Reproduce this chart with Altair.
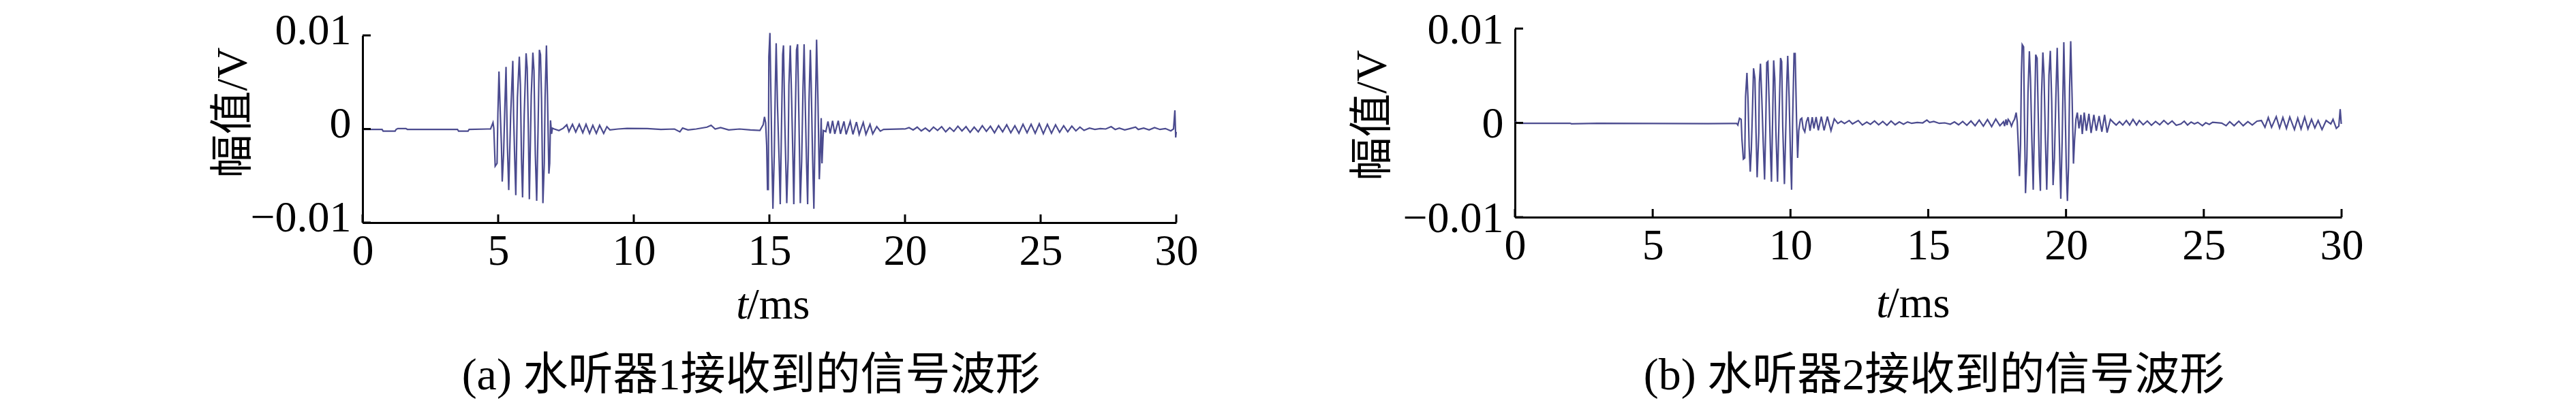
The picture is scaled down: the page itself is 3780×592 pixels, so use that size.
import altair as alt
import pandas as pd

# ---------------- data ----------------
# panel (a): hydrophone 1, time in ms, amplitude in mV
t_a = [0.00, 0.72, 0.76, 1.20, 1.24, 1.30, 1.60, 1.65, 3.50, 3.54, 3.89, 3.93, 4.60,
       4.72, 4.81, 4.84, 4.89, 4.96, 4.99, 5.03, 5.08, 5.12, 5.15, 5.20, 5.25, 5.29, 5.34,
       5.39, 5.46, 5.54, 5.57, 5.61, 5.65, 5.71, 5.78, 5.82, 5.86, 5.90, 5.96, 6.03, 6.07,
       6.11, 6.15, 6.22, 6.28, 6.32, 6.37, 6.42, 6.47, 6.52, 6.56, 6.60, 6.65, 6.70, 6.73,
       6.78, 6.82, 6.87, 6.90, 6.93, 6.97, 7.00, 7.07, 7.24, 7.40, 7.53, 7.61, 7.74, 7.86,
       7.99, 8.12, 8.24, 8.37, 8.49, 8.62, 8.74, 8.89, 9.01, 9.12, 9.42, 9.75,
       10.50, 11.00, 11.50, 11.70, 11.80, 12.00, 12.30, 12.70, 12.85, 13.00, 13.20, 13.50,
       13.90, 14.30,
       14.65, 14.72, 14.77, 14.82, 14.86, 14.90, 14.93, 14.96, 14.98, 15.02, 15.07, 15.09,
       15.13, 15.18, 15.22, 15.25, 15.30, 15.36, 15.40, 15.45, 15.49, 15.52, 15.57, 15.64,
       15.69, 15.72, 15.77, 15.82, 15.87, 15.90, 15.95, 16.00, 16.04, 16.09, 16.14, 16.19,
       16.24, 16.28, 16.32, 16.37, 16.41, 16.46, 16.51, 16.54, 16.59, 16.64, 16.69, 16.74,
       16.79, 16.84, 16.87, 16.91, 16.94, 16.99, 17.08, 17.16, 17.24, 17.33, 17.41, 17.54,
       17.62, 17.75, 17.83, 17.98, 18.08, 18.21, 18.31, 18.46, 18.56, 18.71, 18.81, 18.96,
       19.09, 19.21, 19.92,
       20.00, 20.15, 20.30, 20.45, 20.60, 20.75, 20.90, 21.05, 21.20, 21.35, 21.50, 21.65,
       21.80, 21.95, 22.10, 22.25, 22.40, 22.55, 22.70, 22.85, 23.00, 23.15, 23.30, 23.45,
       23.60, 23.75, 23.90, 24.05, 24.20, 24.35, 24.50, 24.65, 24.80, 24.95, 25.10, 25.25,
       25.40, 25.55, 25.70, 25.85, 26.00, 26.15, 26.30, 26.45, 26.60, 26.80, 27.00, 27.20,
       27.40, 27.60, 27.75, 27.90, 28.10, 28.30, 28.50, 28.60, 28.80, 29.00, 29.20, 29.40,
       29.60, 29.80, 29.90, 29.95, 29.98, 30.00]
mv_a = [-0.05, -0.05, -0.23, -0.23, -0.04, 0.05, 0.05, -0.04, -0.04, -0.23, -0.23, -0.04, 0.00,
        0.01, 0.69, 0.08, -3.97, -3.67, 1.66, 6.14, 1.54, -1.73, -5.61, -2.70, 2.75, 6.63, -1.73,
        -6.53, 1.42, 7.28, 1.42, -3.19, -7.07, 3.36, 7.72, 4.69, -3.19, -7.31, 1.42, 8.08, 6.51,
        0.45, -7.50, 3.60, 8.16, 6.26, -2.70, -7.67, -0.16, 8.45, 7.96, 3.11, -7.92, -3.67, 3.36,
        8.93, 3.23, -4.77, -3.67, 0.93, -0.52, 0.08, 0.00, -0.16, 0.08, 0.45, -0.28, 0.50, -0.33,
        0.50, -0.40, 0.50, -0.47, 0.40, -0.47, 0.40, -0.47, 0.25, -0.09, 0.00, 0.06,
        0.05, -0.05, 0.00, -0.30, 0.10, -0.10, 0.00, 0.20, 0.40, 0.00, 0.15, -0.10,
        0.00, -0.10,
        -0.16, 0.20, 0.45, 1.30, 0.69, -1.73, -6.46, -6.46, 7.72, 10.26, 1.17, -2.70,
        -8.52, -2.70, 4.81, 9.17, 2.39, -3.43, -8.04, 0.93, 7.96, 8.93, 0.45, -7.92,
        -3.19, 4.69, 8.93, 3.11, -3.43, -8.04, 0.69, 8.45, 9.05, 0.93, -7.92, -3.43,
        4.45, 9.05, 2.87, -3.67, -8.04, 2.87, 8.45, 5.05, -2.70, -8.52, 0.93, 9.54,
        3.11, -5.37, -3.19, 1.17, -3.67, -0.16, -0.28, 0.81, -0.47, 0.88, -0.52, 0.88,
        -0.52, 0.81, -0.57, 0.81, -0.57, 0.74, -0.57, 0.69, -0.57, 0.50, -0.52, 0.25,
        -0.23, -0.04, 0.01,
        0.00, 0.15, -0.10, 0.20, -0.20, 0.10, -0.25, 0.20, -0.15, 0.25, -0.30, 0.15,
        -0.25, 0.30, -0.20, 0.25, -0.35, 0.20, -0.30, 0.35, -0.25, 0.30, -0.40, 0.35,
        -0.30, 0.45, -0.40, 0.35, -0.45, 0.50, -0.40, 0.50, -0.45, 0.55, -0.50, 0.50,
        -0.45, 0.45, -0.35, 0.35, -0.30, 0.30, -0.20, 0.20, -0.15, 0.10, -0.05, 0.05,
        0.00, 0.25, -0.05, 0.10, -0.10, 0.05, 0.20, -0.05, 0.10, -0.10, 0.15, -0.05,
        0.05, -0.20, 0.00, 2.00, -0.90, -0.30]

# panel (b): hydrophone 2, time in ms, amplitude in mV
t_b = [0.00, 0.15, 2.00, 2.05, 3.00, 5.00, 7.00, 7.84, 8.05, 8.09, 8.15, 8.21, 8.24, 8.29,
       8.34, 8.37, 8.42, 8.46, 8.50, 8.54, 8.58, 8.62, 8.66, 8.71, 8.75, 8.79, 8.85, 8.87,
       8.91, 8.96, 9.01, 9.06, 9.10, 9.14, 9.18, 9.23, 9.28, 9.31, 9.35, 9.39, 9.43, 9.47,
       9.53, 9.59, 9.64, 9.68, 9.72, 9.78, 9.82, 9.87, 9.90, 9.95, 10.00, 10.04, 10.08,
       10.13, 10.17, 10.22, 10.26, 10.30, 10.36, 10.41, 10.46, 10.52, 10.58, 10.64, 10.71,
       10.79, 10.85, 10.93, 11.01, 11.12, 11.22, 11.34, 11.47, 11.59, 11.72, 11.84, 11.96,
       12.13, 12.25, 12.46, 12.61, 12.77, 12.90, 13.05, 13.20, 13.35, 13.50, 13.65, 13.80,
       13.95, 14.10, 14.25, 14.40, 14.60, 14.80, 14.95, 15.05, 15.20, 15.40, 15.60, 15.80,
       15.95, 16.10, 16.25, 16.40, 16.55, 16.70, 16.85, 17.00, 17.15, 17.30, 17.45, 17.60,
       17.73, 17.77, 17.82, 17.86, 17.90, 17.96, 18.02, 18.08, 18.13, 18.19, 18.23, 18.27,
       18.31, 18.35, 18.38, 18.41, 18.46, 18.49, 18.53, 18.58, 18.62, 18.67, 18.71, 18.76,
       18.81, 18.85, 18.90, 18.95, 18.99, 19.03, 19.07, 19.11, 19.16, 19.20, 19.25, 19.30,
       19.35, 19.38, 19.43, 19.48, 19.53, 19.58, 19.63, 19.68, 19.73, 19.78, 19.81, 19.86,
       19.92, 19.96, 20.01, 20.05, 20.09, 20.13, 20.17, 20.22, 20.27, 20.31, 20.36, 20.41,
       20.47, 20.54, 20.59, 20.66, 20.74, 20.83, 20.91, 21.01, 21.10, 21.20, 21.30, 21.40,
       21.49, 21.61, 21.73, 21.82, 21.94, 22.06, 22.19, 22.31, 22.43, 22.56, 22.66, 22.80,
       22.95, 23.10, 23.25, 23.40, 23.55, 23.70, 23.85, 24.00, 24.17, 24.29, 24.41, 24.54,
       24.66, 24.78, 24.95, 25.07, 25.20, 25.32, 25.65, 25.81, 25.94, 26.10, 26.27, 26.43,
       26.60, 26.76, 26.93, 27.09, 27.22, 27.34, 27.46, 27.63, 27.75, 27.87, 28.00, 28.12,
       28.29, 28.41, 28.53, 28.66, 28.78, 28.91, 29.03, 29.15, 29.29, 29.44, 29.61, 29.69,
       29.81, 29.90, 29.95, 29.99]
mv_b = [0.12, -0.04, -0.04, -0.10, -0.04, -0.06, -0.08, -0.06, -0.06, -0.23, 0.49, 0.37, -1.80, -3.84,
        -3.72, 2.78, 5.30, 2.42, -2.52, -5.17, -2.76, 1.33, 5.79, 4.70, -1.07, -5.77, -1.07, 4.22,
        6.27, 2.54, -2.04, -6.01, -0.59, 6.39, 6.51, 1.81, -3.72, -6.25, 0.13, 6.63, 4.70, -0.83,
        -6.25, 1.21, 6.87, 6.51, -0.47, -6.49, -1.80, 4.58, 7.11, 2.78, -3.48, -7.09, 0.61,
        7.35, 7.35, 0.37, -3.72, -0.83, 0.37, 0.49, -0.59, -0.95, 0.13, 0.61, -0.83,
        0.61, -0.59, 0.61, -0.79, 0.66, -0.79, 0.66, -0.83, 0.42, -0.06, 0.18, -0.06,
        0.25, -0.11, 0.25, -0.23, 0.08, -0.15, 0.20, -0.20, 0.15, -0.25, 0.20, -0.20,
        0.10, -0.15, 0.10, -0.05, 0.05, 0.00, 0.30, 0.05, 0.15, -0.05, 0.00, -0.15,
        0.10, -0.20, 0.15, -0.25, 0.20, -0.30, 0.30, -0.35, 0.35, -0.40, 0.40, -0.30,
        0.13, -0.35, 0.37, -0.23, 0.37, 0.13, -0.35, 0.13, 0.37, 1.09, 0.13, -2.52,
        -5.65, -2.28, 5.18, 8.31, 8.07, 0.61, -7.45, -3.72, 3.26, 7.59, 4.70, -1.80,
        -7.09, -0.59, 7.23, 6.87, 1.09, -4.56, -7.21, 2.78, 7.47, 5.18, -1.56, -7.09,
        -0.83, 5.06, 7.64, 2.30, -6.61, -3.72, 2.54, 7.95, 1.81, -4.92, -8.05, -1.80,
        8.55, 2.78, -4.68, -8.29, -4.68, 3.74, 8.67, 2.78, -4.32, -1.80, 0.37, 1.09,
        -0.59, 0.85, -1.19, 1.09, -0.83, 0.97, -1.07, 0.85, -0.83, 0.73, -0.95, 0.85,
        -1.03, 0.37, 0.01, -0.23, 0.13, -0.23, 0.25, -0.23, 0.37, -0.23, 0.25, -0.20,
        0.20, -0.25, 0.15, -0.20, 0.25, -0.15, 0.20, -0.25, -0.11, 0.18, -0.23, 0.09,
        -0.11, 0.06, -0.30, 0.01, -0.16, 0.06, -0.03, -0.30, 0.13, -0.30, 0.18, -0.30,
        0.13, -0.23, 0.18, 0.25, -0.47, 0.57, -0.47, 0.66, -0.54, 0.57, -0.59, 0.62,
        -0.71, 0.50, -0.64, 0.62, -0.64, 0.37, -0.54, 0.25, -0.71, 0.25, -0.11, 0.37,
        -0.59, -0.35, 1.46, -0.11]

x_ticks = [0, 5, 10, 15, 20, 25, 30]
y_ticks = [-0.01, 0, 0.01]
y_title = "幅值/V"
x_title_t = "t"
x_title_unit = "/ms"
captions = ["(a) 水听器1接收到的信号波形", "(b) 水听器2接收到的信号波形"]

LINE = "#4b4b8f"
SERIF = "Liberation Serif"
MIXED = "Liberation Serif, Noto Sans CJK SC"
ONE = pd.DataFrame({"k": [0]})


def panel(t, mv, width, height, yrange, label_offset, title_x, title_y, tx, ty, cx, cy, caption):
    df = pd.DataFrame({"t": t, "v": [m / 1000 for m in mv], "i": list(range(len(t)))})
    xs = alt.Scale(domain=[0, 30], nice=False, zero=False)
    ys = alt.Scale(domain=[-0.01, 0.01], nice=False, zero=False, range=yrange)
    xa = alt.Axis(values=x_ticks, format="d", title=None, labelFlush=False, labelPadding=10)
    ya = alt.Axis(values=y_ticks, format=".2~f", title=y_title, labelPadding=17,
                  labelOffset=label_offset,
                  titleX=title_x, titleY=title_y, titleAngle=-90, titleBaseline="middle",
                  titleAlign="center")
    line = alt.Chart(df).mark_line(color=LINE, strokeWidth=2.2, clip=False).encode(
        x=alt.X("t:Q", scale=xs, axis=xa),
        y=alt.Y("v:Q", scale=ys, axis=ya),
        order="i:Q",
    )
    xt = alt.Chart(pd.DataFrame({"t": x_ticks})).mark_rule(color="black", strokeWidth=3).encode(
        x=alt.X("t:Q", scale=xs, axis=xa),
        y=alt.value(height), y2=alt.value(height - 12),
    )
    yt = alt.Chart(pd.DataFrame({"v": y_ticks})).mark_rule(color="black", strokeWidth=3).encode(
        y=alt.Y("v:Q", scale=ys, axis=ya),
        x=alt.value(0), x2=alt.value(12),
    )
    t_it = alt.Chart(ONE).mark_text(text=x_title_t, font=SERIF, fontSize=64, fontStyle="italic",
                                    align="right", baseline="alphabetic", color="black").encode(
        x=alt.value(tx + 2), y=alt.value(ty))
    t_un = alt.Chart(ONE).mark_text(text=x_title_unit, font=SERIF, fontSize=64,
                                    align="left", baseline="alphabetic", color="black").encode(
        x=alt.value(tx), y=alt.value(ty))
    cap = alt.Chart(ONE).mark_text(text=caption, font=MIXED, fontSize=66,
                                   align="center", baseline="alphabetic", color="black").encode(
        x=alt.value(cx), y=alt.value(cy))
    return alt.layer(line, xt, yt, t_it, t_un, cap).properties(width=width, height=height)


pa = panel(t_a, mv_a, 1194, 285, [285, 10], -7, -190, 123, 564, 426, 570, 530, captions[0])
pb = panel(t_b, mv_b, 1213, 277, [277, 0], 2, -209, 127, 546, 424, 615, 530, captions[1])

chart = alt.hconcat(pa, pb, spacing=224).properties(
    padding={"left": 302, "top": 4, "right": 10, "bottom": 5},
    background="white",
).configure_view(stroke=None).configure_axis(
    domainColor="black", domainWidth=3, ticks=False, grid=False,
    labelFont=SERIF, labelFontSize=64, labelColor="black",
    titleFont=MIXED, titleFontSize=64, titleColor="black", titleFontWeight="normal",
)

chart.save("out.html", embed_options={"renderer": "svg", "actions": False})
